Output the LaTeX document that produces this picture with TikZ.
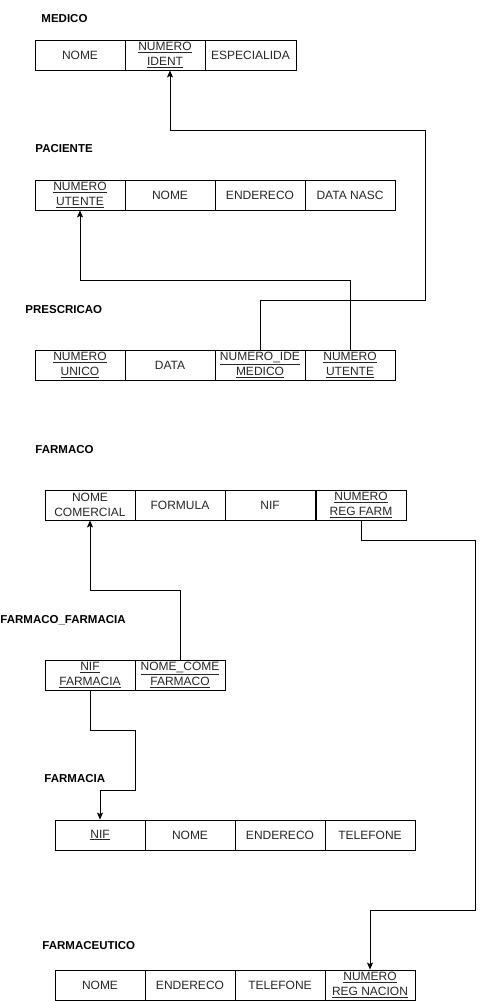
\documentclass[tikz,border=0pt]{standalone}
\usepackage{fontspec}
\setmainfont{Liberation Sans}
\usetikzlibrary{arrows.meta}

\begin{document}
\begin{tikzpicture}[x=1pt, y=-1pt, line width=0.9pt,
    font=\fontsize{12}{14.5}\selectfont]
  \tikzstyle{cell}=[draw, minimum width=90pt, minimum height=30pt,
    inner sep=0pt, align=center, text=black!85]
  \tikzstyle{title}=[anchor=west, inner sep=0pt,
    font=\fontsize{11.5}{14}\selectfont\bfseries]
  \tikzstyle{fk}=[draw, -{Stealth[length=7pt, width=6pt, inset=1.5pt]}]

  \useasboundingbox (0,0) rectangle (487,1001);

  % MEDICO
  \node[title] (medico) at (41,19) {MEDICO};
  \path
    (80,55) node[cell] (med-nome) {NOME}
    (165,55) node[cell, minimum width=80pt] (med-ident)
      {\underline{NUMERO}\\\underline{IDENT}}
    (250.5,55) node[cell, minimum width=91pt] (med-espec) {ESPECIALIDA};

  % PACIENTE
  \node[title] (paciente) at (35,149) {PACIENTE};
  \path
    (80,195) node[cell] (pac-utente) {\underline{NUMERO}\\\underline{UTENTE}}
    (170,195) node[cell] (pac-nome) {NOME}
    (260,195) node[cell] (pac-end) {ENDERECO}
    (350,195) node[cell] (pac-nasc) {DATA NASC};

  % PRESCRICAO
  \node[title] (prescricao) at (25,310) {PRESCRICAO};
  \path
    (80,365) node[cell] (pre-unico) {\underline{NUMERO}\\\underline{UNICO}}
    (170,365) node[cell] (pre-data) {DATA}
    (260,365) node[cell] (pre-ident) {\underline{NUMERO\_IDE}\\\underline{MEDICO}}
    (350,365) node[cell] (pre-utente) {\underline{NUMERO}\\\underline{UTENTE}};

  % FARMACO
  \node[title] (farmaco) at (35,450) {FARMACO};
  \path
    (90,505) node[cell] (far-nome) {NOME\\COMERCIAL}
    (180,505) node[cell] (far-formula) {FORMULA}
    (270,505) node[cell] (far-nif) {NIF}
    (361,505) node[cell] (far-reg) {\underline{NUMERO}\\\underline{REG FARM}};

  % FARMACO_FARMACIA
  \node[title] (farmfarm) at (0,620) {FARMACO\_FARMACIA};
  \path
    (90,675) node[cell] (ff-nif) {\underline{NIF}\\\underline{FARMACIA}}
    (180,675) node[cell] (ff-nome) {\underline{NOME\_COME}\\\underline{FARMACO}};

  % FARMACIA
  \node[title] (farmacia) at (44,779) {FARMACIA};
  \path
    (100,835) node[cell] (fcia-nif) {\underline{NIF}}
    (190,835) node[cell] (fcia-nome) {NOME}
    (280,835) node[cell] (fcia-end) {ENDERECO}
    (370,835) node[cell] (fcia-tel) {TELEFONE};

  % FARMACEUTICO
  \node[title] (farmaceutico) at (42,946) {FARMACEUTICO};
  \path
    (100,985) node[cell] (fce-nome) {NOME}
    (190,985) node[cell] (fce-end) {ENDERECO}
    (280,985) node[cell] (fce-tel) {TELEFONE}
    (370,985) node[cell] (fce-reg) {\underline{NUMERO}\\\underline{REG NACION}};

  % foreign keys
  \path[fk] (pre-ident.north) |- (425,300) |- (170,130)
    -- ([xshift=5pt]med-ident.south);
  \path[fk] (pre-utente.north) |- (80,280) -- (pac-utente.south);
  \path[fk] (ff-nome.north) |- (90,590) -- (far-nome.south);
  \path[fk] (ff-nif.south) |- (135,730) |- (100,790) -- (fcia-nif.north);
  \path[fk] (far-reg.south) |- (475,540) |- (370,910) -- (fce-reg.north);

\end{tikzpicture}
\end{document}
